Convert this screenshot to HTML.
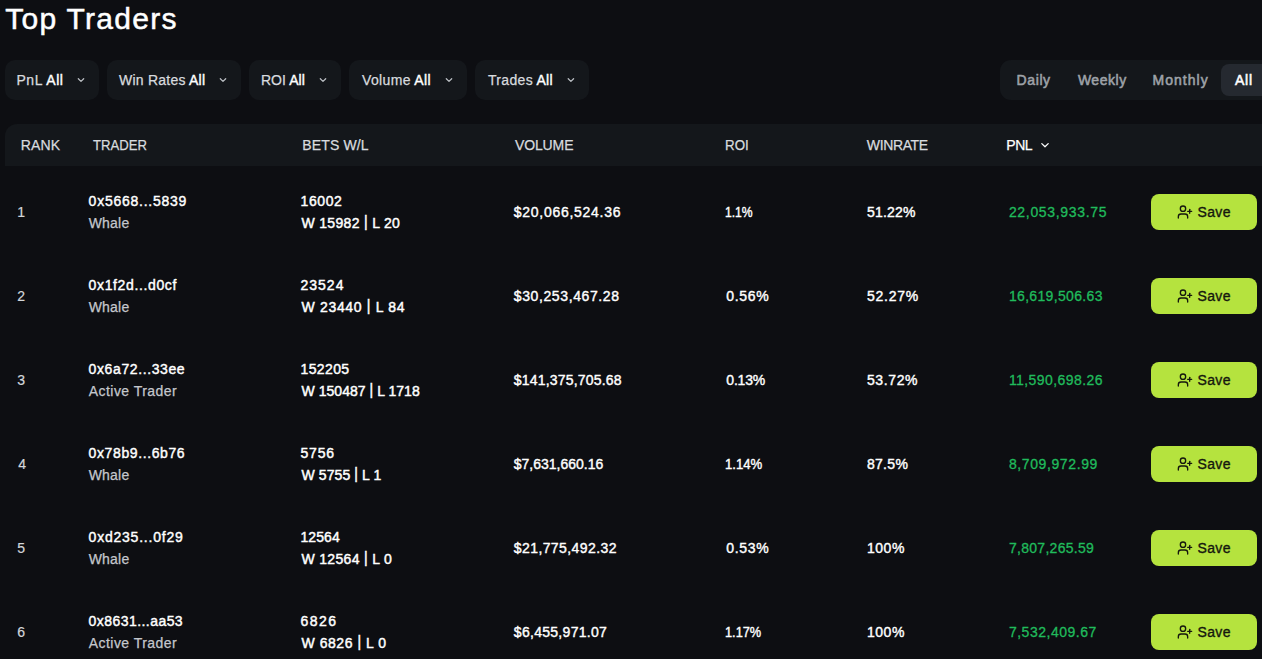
<!DOCTYPE html>
<html><head><meta charset="utf-8"><title>Top Traders</title><style>

html,body{margin:0;padding:0;}
body{width:1262px;height:659px;overflow:hidden;background:#0d0e12;font-family:"Liberation Sans",sans-serif;position:relative;color:#fff;}
.t{position:absolute;white-space:nowrap;font-size:14px;line-height:20px;}
.title{font-size:30px;line-height:20px;color:#fff;-webkit-text-stroke:0.5px #fff;}
.flt .fl{color:#d8dbdf;-webkit-text-stroke:0.25px #d8dbdf;}
.flt .fa{color:#fff;-webkit-text-stroke:0.4px #fff;}
.tg{color:#9ea2a8;-webkit-text-stroke:0.55px #9ea2a8;}
.tga{color:#fff;-webkit-text-stroke:0.55px #fff;}
.h{color:#d8dbdf;-webkit-text-stroke:0.25px #d8dbdf;}
.hp{color:#fff;-webkit-text-stroke:0.25px #fff;}
.rk{color:#d3d6da;-webkit-text-stroke:0.2px #d3d6da;}
.ad{color:#fff;-webkit-text-stroke:0.42px #fff;}
.ty{color:#c4c7cc;-webkit-text-stroke:0.25px #c4c7cc;}
.bw{color:#fff;-webkit-text-stroke:0.45px #fff;}
.vo{color:#fff;-webkit-text-stroke:0.4px #fff;}
.pn{color:#20bb5c;-webkit-text-stroke:0.3px #20bb5c;}
.svt{color:#15170e;-webkit-text-stroke:0.35px #15170e;}
.bar{display:inline-block;transform:translateY(-1.3px) scaleY(1.12);}
.box{position:absolute;}
.box svg{display:block;}

.fb{position:absolute;top:60px;height:40px;background:#14171b;border-radius:10px;}
.tog{position:absolute;left:1000px;top:60px;width:300px;height:40px;background:#14171b;border-radius:11px;}
.act{position:absolute;left:1221px;top:64px;width:80px;height:32px;background:#252930;border-radius:8px;}
.hdr{position:absolute;left:5px;top:124px;width:1300px;height:42px;background:#14171b;border-radius:12px 0 0 0;}
.sv{position:absolute;left:1151px;width:106px;height:36px;background:#b5e33e;border-radius:8px;}
</style></head><body>
<div class="fb" style="left:5px;width:94px"></div>
<div class="fb" style="left:107px;width:134px"></div>
<div class="fb" style="left:249px;width:92px"></div>
<div class="fb" style="left:349px;width:118px"></div>
<div class="fb" style="left:475px;width:114px"></div>

<div class="tog"></div>
<div class="act"></div>
<div class="hdr"></div>
<svg class="box" style="left:0;top:0" width="1262" height="200" viewBox="0 0 1262 200">
<g fill="none" stroke="#bcc0c5" stroke-width="1.25" stroke-linecap="round" stroke-linejoin="round">
<path d="M78.3 78.7 L81.0 81.4 L83.7 78.7"/>
<path d="M220.3 78.7 L223.0 81.4 L225.7 78.7"/>
<path d="M320.3 78.7 L323.0 81.4 L325.7 78.7"/>
<path d="M446.3 78.7 L449.0 81.4 L451.7 78.7"/>
<path d="M568.2 78.7 L570.9 81.4 L573.6 78.7"/>
<path d="M1041.8 143.6 L1045.0 146.8 L1048.2 143.6" stroke="#fff"/>
</g>
</svg>
<div class="sv" style="top:194px"></div>
<div class="sv" style="top:278px"></div>
<div class="sv" style="top:362px"></div>
<div class="sv" style="top:446px"></div>
<div class="sv" style="top:530px"></div>
<div class="sv" style="top:614px"></div>
<svg class="box" style="left:0;top:0" width="1262" height="659" viewBox="0 0 1262 659">
<defs><g id="up" fill="none" stroke="#15170e" stroke-width="2" stroke-linecap="round" stroke-linejoin="round" transform="scale(0.6667)"><path d="M16 21v-2a4 4 0 0 0-4-4H6a4 4 0 0 0-4 4v2"/><circle cx="9" cy="7" r="4"/><line x1="19" x2="19" y1="8" y2="14"/><line x1="22" x2="16" y1="11" y2="11"/></g></defs>
<use href="#up" x="1177" y="204"/>
<use href="#up" x="1177" y="288"/>
<use href="#up" x="1177" y="372"/>
<use href="#up" x="1177" y="456"/>
<use href="#up" x="1177" y="540"/>
<use href="#up" x="1177" y="624"/>
</svg>
<div class="t title" style="left:5.30px;top:8.60px;letter-spacing:1.280px;">Top Traders</div>
<div class="t flt" style="left:16.40px;top:70.00px;letter-spacing:0.583px;"><span class="fl">PnL</span> <span class="fa">All</span></div>
<div class="t flt" style="left:119.10px;top:70.00px;letter-spacing:0.225px;"><span class="fl">Win Rates</span> <span class="fa">All</span></div>
<div class="t flt" style="left:260.90px;top:70.00px;letter-spacing:0.067px;"><span class="fl">ROI</span> <span class="fa">All</span></div>
<div class="t flt" style="left:362.00px;top:70.00px;letter-spacing:0.356px;"><span class="fl">Volume</span> <span class="fa">All</span></div>
<div class="t flt" style="left:488.00px;top:70.00px;letter-spacing:0.322px;"><span class="fl">Trades</span> <span class="fa">All</span></div>
<div class="t tg" style="left:1016.60px;top:70.00px;letter-spacing:0.600px;">Daily</div>
<div class="t tg" style="left:1077.90px;top:70.00px;letter-spacing:0.520px;">Weekly</div>
<div class="t tg" style="left:1152.50px;top:70.00px;letter-spacing:1.033px;">Monthly</div>
<div class="t tga" style="left:1235.00px;top:70.00px;letter-spacing:0.750px;">All</div>
<div class="t h" style="left:20.70px;top:135.00px;letter-spacing:0.167px;">RANK</div>
<div class="t h" style="left:92.64px;top:135.00px;transform:scaleX(0.9373);transform-origin:0 0;">TRADER</div>
<div class="t h" style="left:302.20px;top:135.00px;letter-spacing:0.157px;">BETS W/L</div>
<div class="t h" style="left:514.90px;top:135.00px;letter-spacing:-0.100px;">VOLUME</div>
<div class="t h" style="left:724.80px;top:135.00px;transform:scaleX(0.9520);transform-origin:0 0;">ROI</div>
<div class="t h" style="left:866.80px;top:135.00px;letter-spacing:-0.367px;">WINRATE</div>
<div class="t hp" style="left:1006.20px;top:135.00px;letter-spacing:-0.400px;">PNL</div>
<div class="t rk" style="left:17.20px;top:202.00px;">1</div>
<div class="t ad" style="left:88.60px;top:191.00px;letter-spacing:0.750px;">0x5668...5839</div>
<div class="t ty" style="left:88.70px;top:213.00px;letter-spacing:0.200px;">Whale</div>
<div class="t bw" style="left:300.50px;top:191.00px;letter-spacing:0.600px;">16002</div>
<div class="t bw" style="left:301.50px;top:213.00px;letter-spacing:0.323px;">W 15982 <span class="bar">|</span> L 20</div>
<div class="t vo" style="left:513.80px;top:202.00px;letter-spacing:0.723px;">$20,066,524.36</div>
<div class="t vo" style="left:725.30px;top:202.00px;transform:scaleX(0.8667);transform-origin:0 0;">1.1%</div>
<div class="t vo" style="left:866.90px;top:202.00px;letter-spacing:0.240px;">51.22%</div>
<div class="t pn" style="left:1008.90px;top:202.00px;letter-spacing:0.675px;">22,053,933.75</div>
<div class="t svt" style="left:1197.40px;top:202.00px;letter-spacing:0.400px;">Save</div>
<div class="t rk" style="left:17.20px;top:286.00px;">2</div>
<div class="t ad" style="left:88.60px;top:275.00px;letter-spacing:0.633px;">0x1f2d...d0cf</div>
<div class="t ty" style="left:88.70px;top:297.00px;letter-spacing:0.200px;">Whale</div>
<div class="t bw" style="left:300.50px;top:275.00px;letter-spacing:1.000px;">23524</div>
<div class="t bw" style="left:301.50px;top:297.00px;letter-spacing:0.677px;">W 23440 <span class="bar">|</span> L 84</div>
<div class="t vo" style="left:513.80px;top:286.00px;letter-spacing:0.608px;">$30,253,467.28</div>
<div class="t vo" style="left:726.30px;top:286.00px;letter-spacing:0.700px;">0.56%</div>
<div class="t vo" style="left:866.90px;top:286.00px;letter-spacing:0.780px;">52.27%</div>
<div class="t pn" style="left:1008.90px;top:286.00px;letter-spacing:0.333px;">16,619,506.63</div>
<div class="t svt" style="left:1197.40px;top:286.00px;letter-spacing:0.400px;">Save</div>
<div class="t rk" style="left:17.20px;top:370.00px;">3</div>
<div class="t ad" style="left:88.60px;top:359.00px;letter-spacing:0.608px;">0x6a72...33ee</div>
<div class="t ty" style="left:88.70px;top:381.00px;letter-spacing:0.467px;">Active Trader</div>
<div class="t bw" style="left:300.50px;top:359.00px;letter-spacing:0.380px;">152205</div>
<div class="t bw" style="left:301.50px;top:381.00px;letter-spacing:0.038px;">W 150487 <span class="bar">|</span> L 1718</div>
<div class="t vo" style="left:513.80px;top:370.00px;letter-spacing:0.193px;">$141,375,705.68</div>
<div class="t vo" style="left:726.30px;top:370.00px;letter-spacing:-0.200px;">0.13%</div>
<div class="t vo" style="left:866.90px;top:370.00px;letter-spacing:0.640px;">53.72%</div>
<div class="t pn" style="left:1008.90px;top:370.00px;letter-spacing:0.433px;">11,590,698.26</div>
<div class="t svt" style="left:1197.40px;top:370.00px;letter-spacing:0.400px;">Save</div>
<div class="t rk" style="left:18.20px;top:454.00px;">4</div>
<div class="t ad" style="left:88.60px;top:443.00px;letter-spacing:0.608px;">0x78b9...6b76</div>
<div class="t ty" style="left:88.70px;top:465.00px;letter-spacing:0.200px;">Whale</div>
<div class="t bw" style="left:300.50px;top:443.00px;letter-spacing:0.833px;">5756</div>
<div class="t bw" style="left:301.50px;top:465.00px;letter-spacing:0.100px;">W 5755 <span class="bar">|</span> L 1</div>
<div class="t vo" style="left:513.80px;top:454.00px;letter-spacing:-0.008px;">$7,631,660.16</div>
<div class="t vo" style="left:725.30px;top:454.00px;transform:scaleX(0.9400);transform-origin:0 0;">1.14%</div>
<div class="t vo" style="left:866.90px;top:454.00px;letter-spacing:0.325px;">87.5%</div>
<div class="t pn" style="left:1008.90px;top:454.00px;letter-spacing:0.609px;">8,709,972.99</div>
<div class="t svt" style="left:1197.40px;top:454.00px;letter-spacing:0.400px;">Save</div>
<div class="t rk" style="left:17.20px;top:538.00px;">5</div>
<div class="t ad" style="left:88.60px;top:527.00px;letter-spacing:0.775px;">0xd235...0f29</div>
<div class="t ty" style="left:88.70px;top:549.00px;letter-spacing:0.200px;">Whale</div>
<div class="t bw" style="left:300.50px;top:527.00px;letter-spacing:0.075px;">12564</div>
<div class="t bw" style="left:301.50px;top:549.00px;letter-spacing:0.325px;">W 12564 <span class="bar">|</span> L 0</div>
<div class="t vo" style="left:513.80px;top:538.00px;letter-spacing:0.408px;">$21,775,492.32</div>
<div class="t vo" style="left:726.30px;top:538.00px;letter-spacing:0.700px;">0.53%</div>
<div class="t vo" style="left:866.90px;top:538.00px;letter-spacing:0.567px;">100%</div>
<div class="t pn" style="left:1008.90px;top:538.00px;letter-spacing:0.291px;">7,807,265.59</div>
<div class="t svt" style="left:1197.40px;top:538.00px;letter-spacing:0.400px;">Save</div>
<div class="t rk" style="left:17.20px;top:622.00px;">6</div>
<div class="t ad" style="left:88.60px;top:611.00px;letter-spacing:0.442px;">0x8631...aa53</div>
<div class="t ty" style="left:88.70px;top:633.00px;letter-spacing:0.467px;">Active Trader</div>
<div class="t bw" style="left:300.50px;top:611.00px;letter-spacing:1.500px;">6826</div>
<div class="t bw" style="left:301.50px;top:633.00px;letter-spacing:0.545px;">W 6826 <span class="bar">|</span> L 0</div>
<div class="t vo" style="left:513.80px;top:622.00px;letter-spacing:0.292px;">$6,455,971.07</div>
<div class="t vo" style="left:725.30px;top:622.00px;transform:scaleX(0.9125);transform-origin:0 0;">1.17%</div>
<div class="t vo" style="left:866.90px;top:622.00px;letter-spacing:0.567px;">100%</div>
<div class="t pn" style="left:1008.90px;top:622.00px;letter-spacing:0.518px;">7,532,409.67</div>
<div class="t svt" style="left:1197.40px;top:622.00px;letter-spacing:0.400px;">Save</div>

</body></html>
